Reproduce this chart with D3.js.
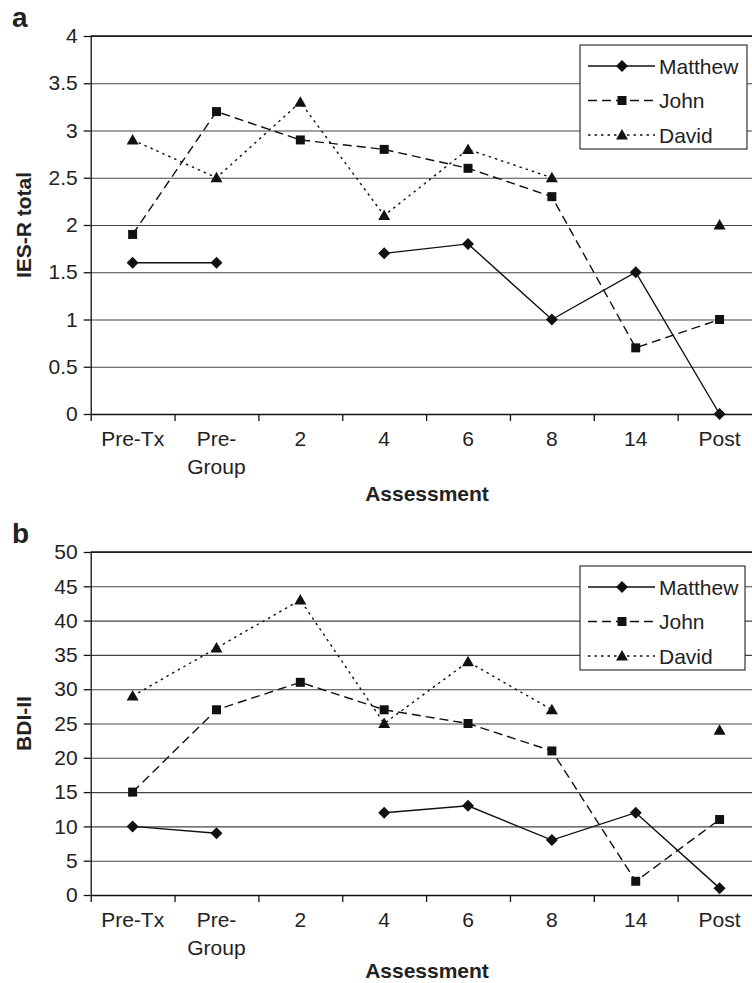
<!DOCTYPE html>
<html>
<head>
<meta charset="utf-8">
<script src="https://cdn.jsdelivr.net/npm/d3@7.9.0/dist/d3.min.js"></script>
<style>
  body { margin: 0; background: #fff; }
  svg { display: block; font-family: "Liberation Sans", Arial, sans-serif; }
</style>
</head>
<body>
<div id="chart"></div>
<script>
// assessment points
const categories = ["Pre-Tx", "Pre-Group", "2", "4", "6", "8", "14", "Post"];
const categoryLines = [["Pre-Tx"], ["Pre-", "Group"], ["2"], ["4"], ["6"], ["8"], ["14"], ["Post"]];
const names = ["Matthew", "John", "David"];

// panel a: IES-R total
const iesMatthew = [1.6, 1.6, null, 1.7, 1.8, 1.0, 1.5, 0];
const iesJohn    = [1.9, 3.2, 2.9, 2.8, 2.6, 2.3, 0.7, 1.0];
const iesDavid   = [2.9, 2.5, 3.3, 2.1, 2.8, 2.5, null, 2.0];
const iesTicks   = [0, 0.5, 1, 1.5, 2, 2.5, 3, 3.5, 4];

// panel b: BDI-II
const bdiMatthew = [10, 9, null, 12, 13, 8, 12, 1];
const bdiJohn    = [15, 27, 31, 27, 25, 21, 2, 11];
const bdiDavid   = [29, 36, 43, 25, 34, 27, null, 24];
const bdiTicks   = [0, 5, 10, 15, 20, 25, 30, 35, 40, 45, 50];

const W = 752, H = 983;
const FS = 21;
const svg = d3.select("#chart").append("svg")
    .attr("width", W)
    .attr("height", H);

// line dash + marker per person
const styles = {
    Matthew: {dash: null, marker: "diamond"},
    John: {dash: "9,5", marker: "square"},
    David: {dash: "2.5,4", marker: "triangle"}
};

function markerPath(type) {
    if (type === "diamond") return "M0,-6L6,0L0,6L-6,0Z";
    if (type === "square") return "M-4.5,-4.5H4.5V4.5H-4.5Z";
    return "M0,-6L6,4.5L-6,4.5Z";
}

const x = d3.scaleBand()
    .domain(categories)
    .range([90.7, 761.5]);
const xEdge = d3.scaleLinear()
    .domain([0, categories.length])
    .range(x.range());

function drawPanel(cfg) {
    const y = d3.scaleLinear()
        .domain([0, cfg.ticks[cfg.ticks.length - 1]])
        .range([cfg.bottom, cfg.top]);
    const g = svg.append("g");
    const left = x.range()[0], right = x.range()[1];

    // gridlines
    g.append("g")
        .attr("transform", `translate(${left},0)`)
        .call(d3.axisLeft(y).tickValues(cfg.ticks).tickSize(-(right - left)).tickFormat(""))
        .call(a => a.select(".domain").remove())
        .call(a => a.selectAll("line").attr("stroke", "#444").attr("stroke-width", 1.1));
    g.append("line")
        .attr("x1", left).attr("x2", right)
        .attr("y1", y(cfg.ticks[cfg.ticks.length - 1])).attr("y2", y(cfg.ticks[cfg.ticks.length - 1]))
        .attr("stroke", "#111").attr("stroke-width", 1.3);

    // y axis
    g.append("g")
        .attr("transform", `translate(${left},0)`)
        .call(d3.axisLeft(y).tickValues(cfg.ticks).tickFormat(d => String(d))
            .tickSize(7).tickPadding(6).tickSizeOuter(0))
        .call(a => a.select(".domain").attr("stroke", "#111").attr("stroke-width", 1.3))
        .call(a => a.selectAll("line").attr("stroke", "#111").attr("stroke-width", 1.3))
        .call(a => a.selectAll("text").attr("font-size", FS).attr("fill", "#222")
            .attr("font-family", "Liberation Sans, Arial, sans-serif"));

    // x axis: ticks at band edges
    g.append("g")
        .attr("transform", `translate(0,${cfg.bottom})`)
        .call(d3.axisBottom(xEdge).tickValues(d3.range(categories.length + 1)).tickSize(7).tickFormat("").tickSizeOuter(0))
        .call(a => a.select(".domain").attr("stroke", "#111").attr("stroke-width", 1.3))
        .call(a => a.selectAll("line").attr("stroke", "#111").attr("stroke-width", 1.3));

    // category labels
    const lab = g.append("g").selectAll("text")
        .data(categories)
        .join("text")
        .attr("x", d => x(d) + x.bandwidth() / 2)
        .attr("y", cfg.bottom + 32)
        .attr("text-anchor", "middle")
        .attr("font-size", FS)
        .attr("fill", "#222");
    lab.each(function(d, i) {
        d3.select(this).selectAll("tspan")
            .data(categoryLines[i])
            .join("tspan")
            .attr("x", x(d) + x.bandwidth() / 2)
            .attr("dy", (t, j) => j === 0 ? 0 : 28)
            .text(t => t);
    });

    // axis titles
    g.append("text")
        .attr("x", 427)
        .attr("y", cfg.bottom + cfg.titleGap)
        .attr("text-anchor", "middle")
        .attr("font-size", FS)
        .attr("font-weight", "bold")
        .attr("fill", "#222")
        .text("Assessment");

    g.append("text")
        .attr("transform", `translate(31,${(cfg.top + cfg.bottom) / 2}) rotate(-90)`)
        .attr("text-anchor", "middle")
        .attr("font-size", FS)
        .attr("font-weight", "bold")
        .attr("fill", "#222")
        .text(cfg.yTitle);

    // panel letter
    g.append("text")
        .attr("x", 12)
        .attr("y", cfg.top - 9)
        .attr("font-size", 28)
        .attr("font-weight", "bold")
        .attr("fill", "#222")
        .text(cfg.letter);

    // series
    const line = d3.line()
        .defined(d => d.v !== null)
        .x(d => x(d.c) + x.bandwidth() / 2)
        .y(d => y(d.v));

    cfg.series.forEach((vals, k) => {
        const st = styles[names[k]];
        const pts = vals.map((v, i) => ({c: categories[i], v: v}));
        g.append("path")
            .datum(pts)
            .attr("fill", "none")
            .attr("stroke", "#111")
            .attr("stroke-width", 1.4)
            .attr("stroke-dasharray", st.dash)
            .attr("d", line);
        g.append("g").selectAll("path")
            .data(pts.filter(d => d.v !== null))
            .join("path")
            .attr("transform", d => `translate(${x(d.c) + x.bandwidth() / 2},${y(d.v)})`)
            .attr("d", markerPath(st.marker))
            .attr("fill", "#111");
    });

    // legend
    const lg = g.append("g")
        .attr("transform", `translate(580,${cfg.legendTop})`);
    lg.append("rect")
        .attr("width", cfg.legendW)
        .attr("height", 104)
        .attr("fill", "#fff")
        .attr("stroke", "#222")
        .attr("stroke-width", 1.1);
    names.forEach((n, k) => {
        const st = styles[n];
        const ry = 21 + k * 34.5;
        lg.append("line")
            .attr("x1", 8).attr("x2", 75)
            .attr("y1", ry).attr("y2", ry)
            .attr("stroke", "#111")
            .attr("stroke-width", 1.4)
            .attr("stroke-dasharray", st.dash);
        lg.append("path")
            .attr("transform", `translate(42,${ry})`)
            .attr("d", markerPath(st.marker))
            .attr("fill", "#111");
        lg.append("text")
            .attr("x", 79)
            .attr("y", ry + 7.5)
            .attr("font-size", FS)
            .attr("fill", "#222")
            .text(n);
    });
}

drawPanel({
    letter: "a", yTitle: "IES-R total", ticks: iesTicks,
    top: 36, bottom: 414, legendTop: 45, legendW: 167, titleGap: 87,
    series: [iesMatthew, iesJohn, iesDavid]
});

drawPanel({
    letter: "b", yTitle: "BDI-II", ticks: bdiTicks,
    top: 552, bottom: 895, legendTop: 566, legendW: 165, titleGap: 83,
    series: [bdiMatthew, bdiJohn, bdiDavid]
});
</script>
</body>
</html>
